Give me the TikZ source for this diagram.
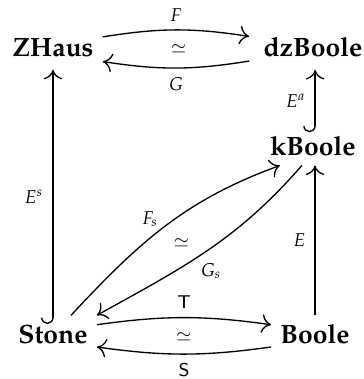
\documentclass[tikz,border=0pt]{standalone}
\usepackage[T1]{fontenc}
\usepackage{mathpazo}
\usepackage{amsmath,amssymb}
\usetikzlibrary{arrows.meta}
\tikzset{
  catnode/.style={font=\bfseries, inner sep=3.3pt},
  maparrow/.style={-{To[length=3.6pt,width=7pt]}, line width=0.5pt},
  hookarrow/.style={{Hooks[right,length=2.4pt,width=9pt]}-{To[length=3.6pt,width=7pt]}, line width=0.5pt},
  maplabel/.style={font=\scriptsize}
}

\begin{document}
\begin{tikzpicture}[x=0.3774pt, y=0.3774pt]
\useasboundingbox (0,0) rectangle (364,-379);
\node[catnode] (zhaus) at (53,-47.5) {ZHaus};
\node[catnode] (dzboole) at (313,-47) {dzBoole};
\node[catnode] (kboole) at (313,-146.5) {kBoole};
\node[catnode] (stone) at (53,-334) {Stone};
\node[catnode] (boole) at (315,-334) {Boole};

% top row
\draw[maparrow] ([yshift=4pt]zhaus.east) to[bend left=9] node[maplabel, above, yshift=-0.5pt]{$F$} ([xshift=-2pt,yshift=4pt]dzboole.west);
\draw[maparrow] ([xshift=-2pt,yshift=-5.3pt]dzboole.west) to[bend left=9] node[maplabel, below]{$G$} ([yshift=-5.3pt]zhaus.east);
\path (zhaus) -- node[maplabel, yshift=-0.8pt]{$\simeq$} (dzboole);

% bottom row
\draw[maparrow] ([yshift=3.5pt]stone.east) to[bend left=8] node[maplabel, above]{$\mathsf{T}$} ([yshift=3.5pt]boole.west);
\draw[maparrow] ([yshift=-4.9pt]boole.west) to[bend left=8] node[maplabel, below]{$\mathsf{S}$} ([yshift=-4.9pt]stone.east);
\path (stone) -- node[maplabel, yshift=-1.2pt]{$\simeq$} (boole);

% verticals
\draw[hookarrow] ([yshift=-3.3pt]stone.north) -- node[maplabel, left]{$E^s$} ([yshift=-1.5pt]zhaus.south);
\draw[hookarrow] ([xshift=0.8pt,yshift=-1.8pt]kboole.north) -- node[maplabel, left]{$E^a$} ([xshift=0.8pt,yshift=-1.5pt]dzboole.south);
\draw[maparrow] (boole.north) -- node[maplabel, left]{$E$} (boole.north |- kboole.south);

% diagonals
\draw[maparrow] ([xshift=6.8pt]stone.north) to[out=47, in=200] node[maplabel, pos=0.45, above left, inner sep=1pt, xshift=2pt, yshift=1pt]{$F_s$} ([xshift=-12.5pt]kboole.south);
\draw[maparrow] ([xshift=-4.2pt]kboole.south) to[out=229, in=29] node[maplabel, pos=0.55, below right, inner sep=1pt, yshift=-1pt]{$G_s$} (stone.north east);
\path (stone) -- node[maplabel, yshift=-1pt, xshift=-0.5pt]{$\simeq$} (kboole);
\end{tikzpicture}
\end{document}
